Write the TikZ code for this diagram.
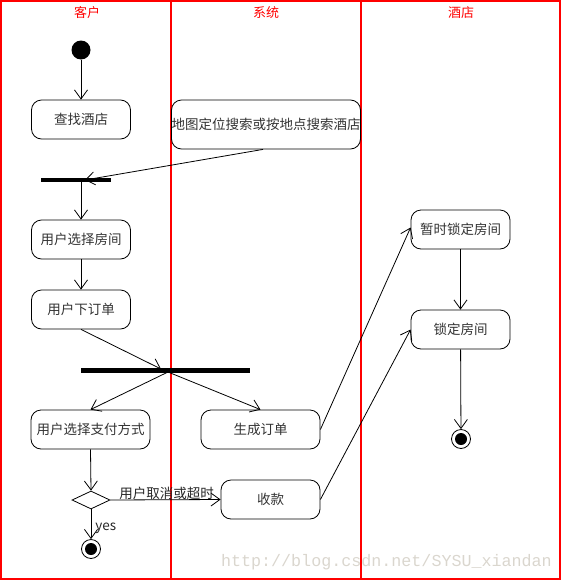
\documentclass[tikz,border=0pt]{standalone}
\usepackage{fontspec}
\setmainfont{Noto Sans CJK SC}
\newfontfamily\wmfont{Liberation Mono}
\usetikzlibrary{arrows.meta,shapes.geometric}
\definecolor{wmgray}{RGB}{218,214,206}
\begin{document}
\begin{tikzpicture}[x=1pt,y=-1pt,
  lane/.style={draw=red,line width=2pt},
  hdr/.style={text=red,font=\fontsize{13}{15}\selectfont},
  act/.style={draw,rounded corners=10pt,line width=0.8pt,minimum width=99pt,minimum height=39pt,inner sep=0pt,text=black!80,font=\fontsize{13.5}{15}\selectfont},
  bar/.style={fill=black,minimum height=4.5pt,inner sep=0pt},
  flow/.style={draw,line width=0.8pt,-{Straight Barb[length=9pt,width=13pt,line width=0.8pt]}},
  lbl/.style={font=\fontsize{13.5}{15}\selectfont,text=black!85,inner sep=1pt}]
\useasboundingbox (0,0) rectangle (563,581);
% watermark (behind lanes)
\node[text=wmgray,font=\wmfont\fontsize{16.7}{19}\selectfont,anchor=east,inner sep=0pt] (wm) at (552,562) {http://blog.csdn.net/SYSU\_xiandan};
% lanes
\draw[lane] (1,1) rectangle (560,579);
\draw[lane] (171,1) -- (171,579);
\draw[lane] (361,1) -- (361,579);
\node[hdr] (h1) at (87,13) {客户};
\node[hdr] (h2) at (266,13) {系统};
\node[hdr] (h3) at (461,13) {酒店};
% nodes
\node[circle,fill=black,minimum size=19pt,inner sep=0pt] (start) at (81,50) {};
\node[act] (find) at (81,119.5) {查找酒店};
\node[act,minimum width=189pt,minimum height=49pt] (search) at (266,124.5) {地图定位搜索或按地点搜索酒店};
\node[bar,minimum width=70pt] (bar1) at (76,180) {};
\node[act] (room) at (81,239.5) {用户选择房间};
\node[act] (order) at (81,309.5) {用户下订单};
\node[bar,minimum width=169pt] (bar2) at (165.5,370.5) {};
\node[act,minimum width=119pt] (pay) at (90.5,429.5) {用户选择支付方式};
\node[act,minimum width=119pt] (gen) at (260.5,429.5) {生成订单};
\node[draw,diamond,line width=0.8pt,minimum width=38pt,minimum height=18pt,inner sep=0pt,aspect=2] (dec) at (91,500) {};
\node[act] (recv) at (270.5,499.5) {收款};
\node[circle,draw,line width=0.8pt,minimum size=19pt,inner sep=0pt] (end1) at (91,549) {};
\node[circle,fill=black,minimum size=12pt,inner sep=0pt] (end1i) at (91,549) {};
\node[act] (tlock) at (460.5,229.5) {暂时锁定房间};
\node[act] (lock) at (460.5,329.5) {锁定房间};
\node[circle,draw,line width=0.8pt,minimum size=19pt,inner sep=0pt] (end2) at (461,439) {};
\node[circle,fill=black,minimum size=12pt,inner sep=0pt] (end2i) at (461,439) {};
% connectors
\coordinate (b1in) at (85,180);
\coordinate (b1out) at (81,182);
\coordinate (b2in) at (161,369);
\coordinate (b2out) at (168,372);
\draw[flow] (start) -- (find);
\draw[flow] (search.south -| 263,0) -- (b1in);
\draw[flow] (b1out) -- (room);
\draw[flow] (room) -- (order);
\draw[flow] (order.south) -- (b2in);
\draw[flow] (b2out) -- (pay.north);
\draw[flow] (b2out) -- (gen.north);
\draw[flow] (pay.south) -- (dec.north);
\draw[flow] (dec.east) -- node[lbl,above,pos=0.5,xshift=1pt,yshift=-1pt] (lc) {用户取消或超时} (recv.west);
\draw[flow] (dec.south) -- node[lbl,right,pos=0.5,xshift=3pt,yshift=-4pt] (ly) {yes} (end1);
\draw[flow] (gen.east) -- ([yshift=2pt]tlock.west);
\draw[flow] (recv.east) -- (lock.west);
\draw[flow] (tlock) -- (lock);
\draw[flow] (lock) -- (end2);
\end{tikzpicture}
\end{document}
